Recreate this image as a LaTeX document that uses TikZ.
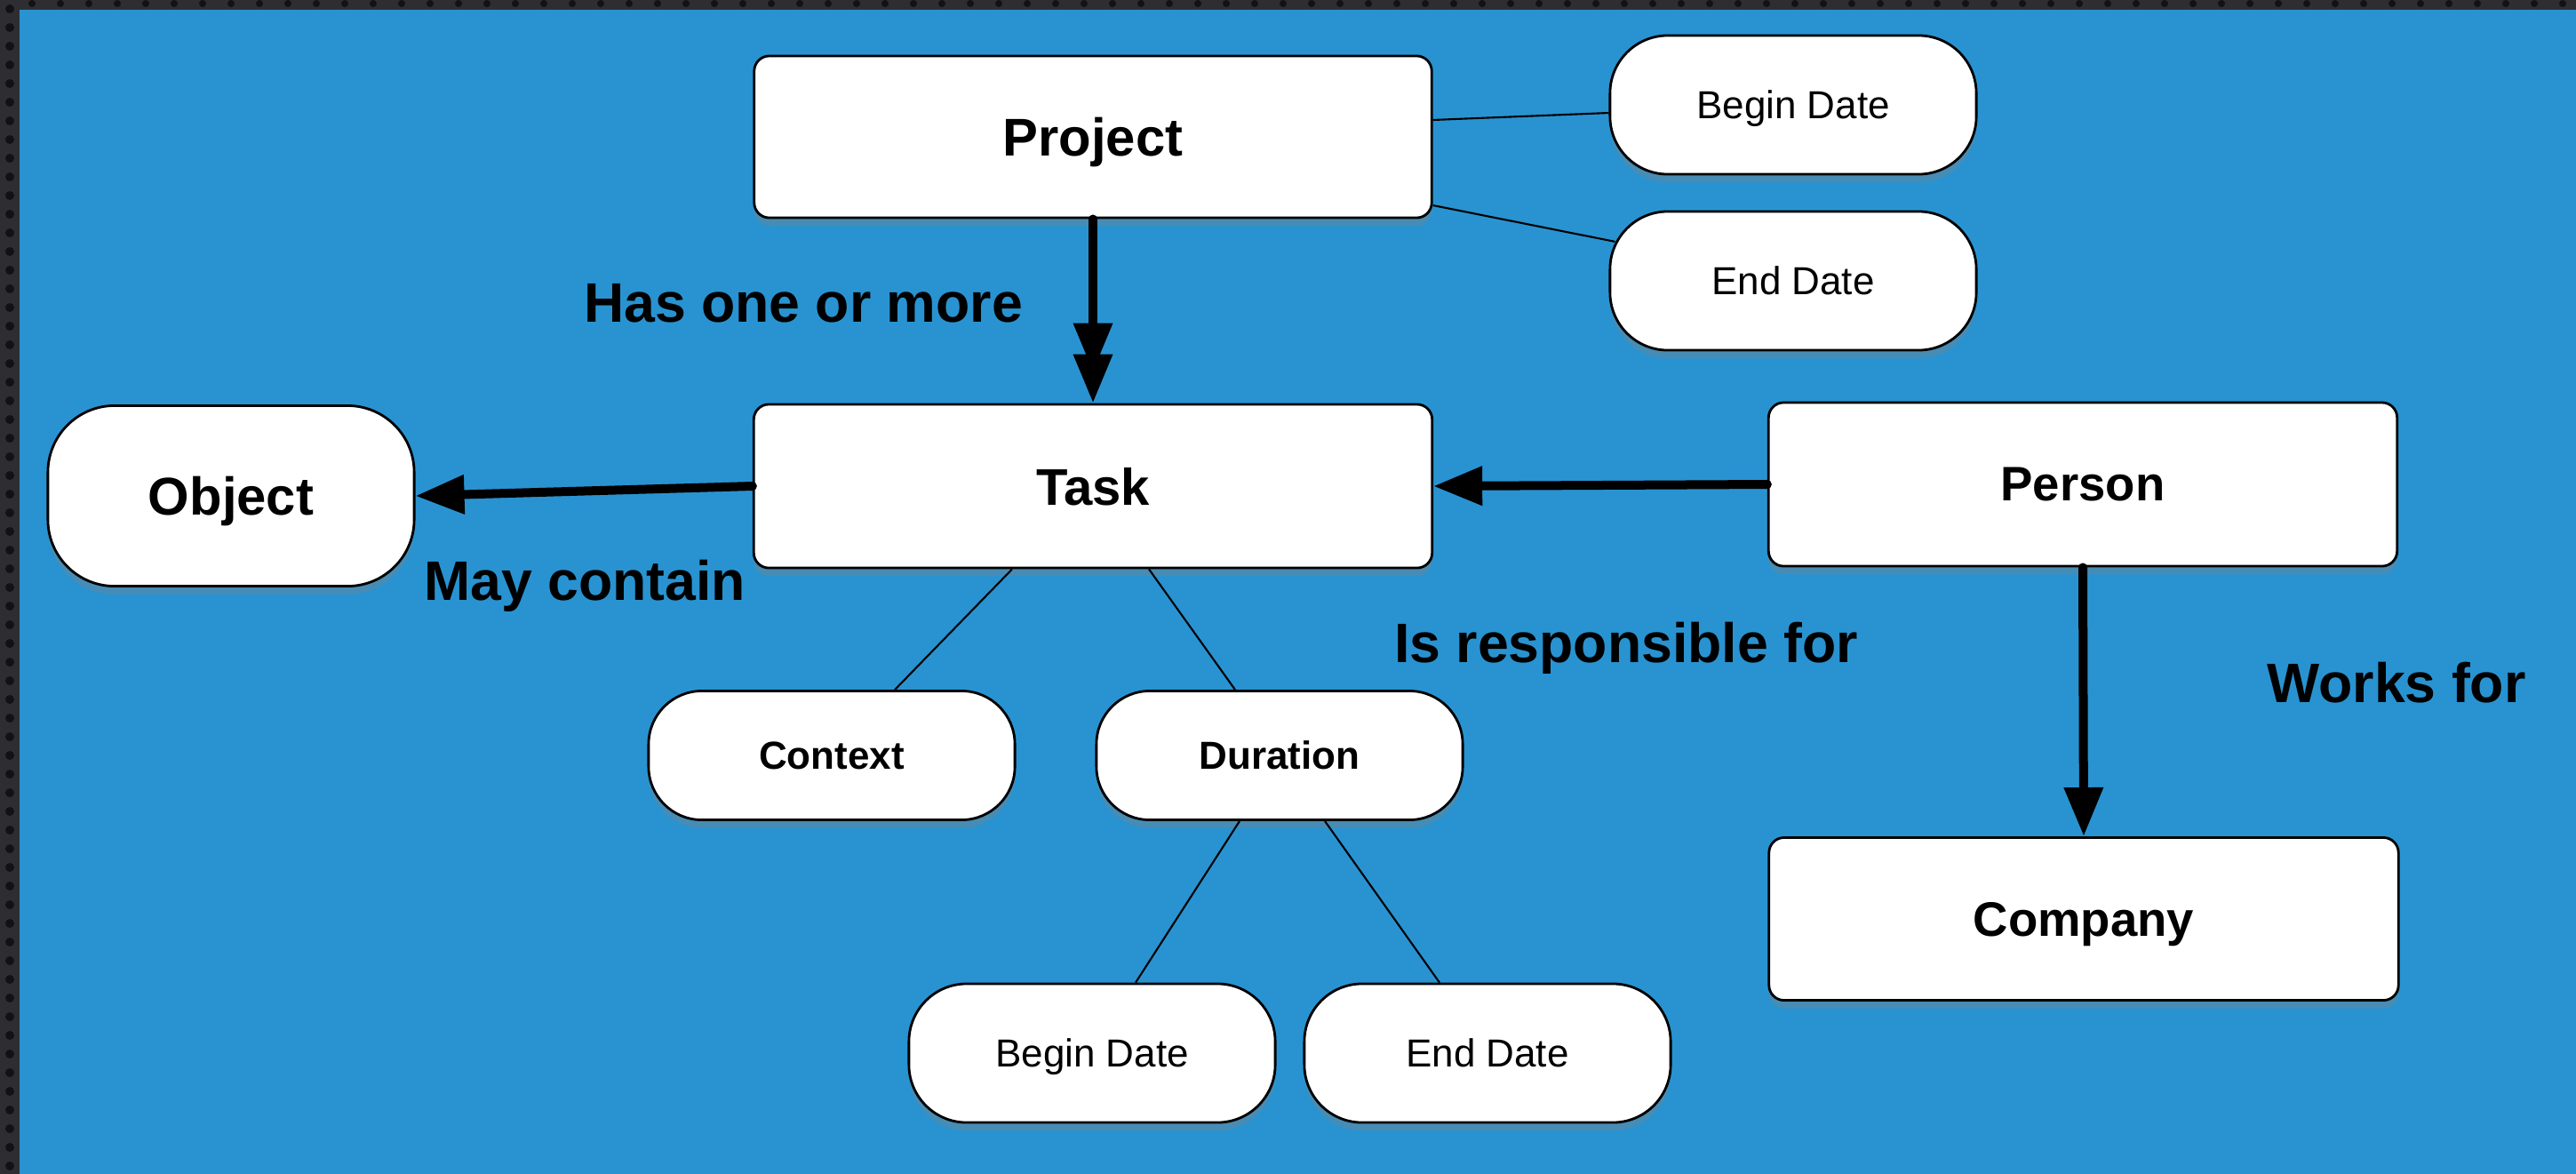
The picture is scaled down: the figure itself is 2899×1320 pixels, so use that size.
\documentclass[tikz,border=0pt]{standalone}
\usepackage{fontspec}
\setmainfont{Liberation Sans}
\usetikzlibrary{arrows.meta,shadows}

\definecolor{felt}{RGB}{41,147,209}
\definecolor{frame}{RGB}{46,46,50}
\definecolor{hole}{RGB}{18,18,20}

\tikzset{
  entity/.style={draw, fill=white, line width=0.8pt, rounded corners=0.17cm, inner sep=0pt,
    text depth=0pt, font=\bfseries,
    drop shadow={shadow xshift=0pt, shadow yshift=-0.9mm, opacity=0.35}},
  attr/.style={entity, rounded corners=0.65cm, minimum width=4.12cm, minimum height=1.56cm,
    font=\fontsize{12.5}{15}\selectfont},
  battr/.style={attr, minimum height=1.45cm, rounded corners=0.6cm,
    font=\bfseries\fontsize{12.5}{15}\selectfont},
  thin/.style={line width=0.6pt},
  rel/.style={line width=1mm, line cap=round, -{Triangle[length=5.5mm,width=4.2mm]}},
  lbl/.style={inner sep=0pt, font=\bfseries\fontsize{17.8}{21}\selectfont}
}

\begin{document}
\begin{tikzpicture}[x=0.01cm, y=-0.01cm]
  \useasboundingbox (0,0) rectangle (2899,1320);
  % background and frame
  \fill[felt] (-20,-20) rectangle (2920,1340);
  \fill[frame] (-20,-20) rectangle (22,1340);
  \fill[frame] (-20,-20) rectangle (2920,11);
  \foreach \y in {10,31,...,1320} \fill[hole] (11,\y) circle (5);
  \foreach \x in {36,68,...,2899} \fill[hole] (\x,4) circle (4);

  % main entities
  \node[entity, minimum width=7.62cm, minimum height=1.82cm, font=\bfseries\fontsize{17}{20}\selectfont]
    (project) at (1230,154) {Project};
  \node[entity, minimum width=7.63cm, minimum height=1.84cm, font=\bfseries\fontsize{16.5}{20}\selectfont]
    (task) at (1230,547) {Task};
  \node[entity, minimum width=7.07cm, minimum height=1.84cm, font=\bfseries\fontsize{15.5}{19}\selectfont]
    (person) at (2344,545) {Person};
  \node[entity, minimum width=7.08cm, minimum height=1.83cm, font=\bfseries\fontsize{15.5}{19}\selectfont]
    (company) at (2345,1034) {Company};
  \node[attr, minimum height=2.03cm, rounded corners=0.75cm, font=\bfseries\fontsize{17}{20}\selectfont]
    (object) at (260,558) {Object};

  % attributes
  \node[attr] (pbegin) at (2018,118) {Begin Date};
  \node[attr] (pend) at (2018,316) {End Date};
  \node[battr] (context) at (936,850) {Context};
  \node[battr] (duration) at (1440,850) {Duration};
  \node[attr] (dbegin) at (1229,1185) {Begin Date};
  \node[attr] (dend) at (1674,1185) {End Date};

  % attribute links
  \draw[thin] ([yshift=0.19cm]project.east) -- ([yshift=-0.09cm]pbegin.west);
  \draw[thin] ([yshift=-0.77cm]project.east) -- ([xshift=0.07cm]pend.168);
  \draw[thin] ([xshift=-0.91cm]task.south) -- ([xshift=0.71cm]context.north);
  \draw[thin] ([xshift=0.63cm]task.south) -- ([xshift=-0.5cm]duration.north);
  \draw[thin] ([xshift=-0.45cm]duration.south) -- ([xshift=0.49cm]dbegin.north);
  \draw[thin] ([xshift=0.51cm]duration.south) -- ([xshift=-0.54cm]dend.north);

  % relations
  \draw[line width=1mm, line cap=round,
    -{Triangle[length=5.5mm,width=4.2mm,sep=-2mm] Triangle[length=5.5mm,width=4.2mm]}]
    (project.south) -- (task.north);
  \draw[rel] (task.west) -- (object.east);
  \draw[rel] (person.west) -- (task.east);
  \draw[rel] (person.south) -- (company.north);

  % relation labels
  \node[lbl] (hasmore) at (904,341) {Has one or more};
  \node[lbl] (maycontain) at (658,659) {May contain};
  \node[lbl] (responsible) at (1830,729) {Is responsible for};
  \node[lbl] (worksfor) at (2697,768) {Works for};
\end{tikzpicture}
\end{document}
